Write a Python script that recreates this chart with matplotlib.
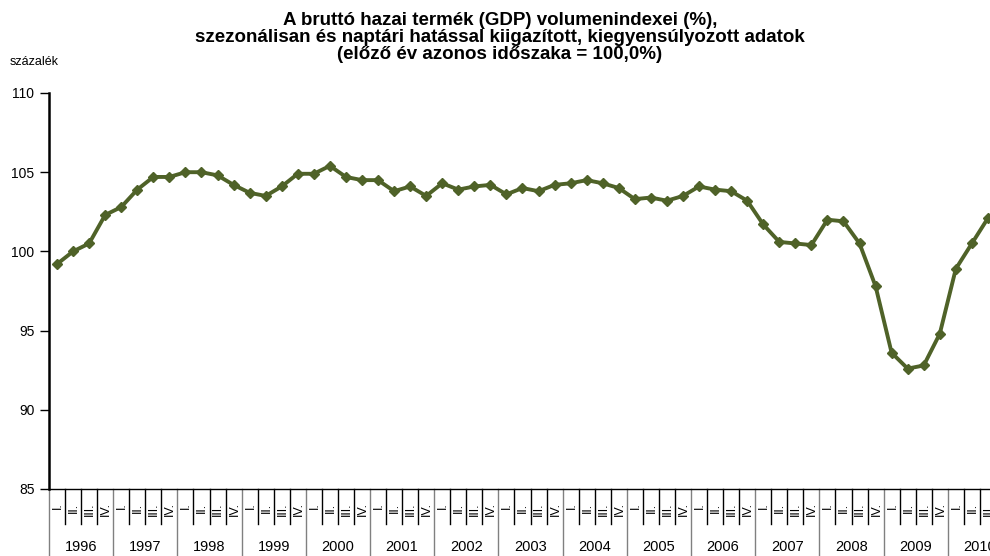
import matplotlib.pyplot as plt
import matplotlib.transforms as mtransforms

years = list(range(1996, 2011))
quarter_labels = ["I.", "II.", "III.", "IV."]
gdp_index = [
    99.2, 100.0, 100.5, 102.3,   # 1996
    102.8, 103.9, 104.7, 104.7,  # 1997
    105.0, 105.0, 104.8, 104.2,  # 1998
    103.7, 103.5, 104.1, 104.9,  # 1999
    104.9, 105.4, 104.7, 104.5,  # 2000
    104.5, 103.8, 104.1, 103.5,  # 2001
    104.3, 103.9, 104.1, 104.2,  # 2002
    103.6, 104.0, 103.8, 104.2,  # 2003
    104.3, 104.5, 104.3, 104.0,  # 2004
    103.3, 103.4, 103.2, 103.5,  # 2005
    104.1, 103.9, 103.8, 103.2,  # 2006
    101.7, 100.6, 100.5, 100.4,  # 2007
    102.0, 101.9, 100.5, 97.8,   # 2008
    93.6, 92.6, 92.8, 94.8,      # 2009
    98.9, 100.5, 102.1,          # 2010
]
y_ticks = [85, 90, 95, 100, 105, 110]

title = ("A bruttó hazai termék (GDP) volumenindexei (%),\n"
         "szezonálisan és naptári hatással kiigazított, kiegyensúlyozott adatok\n"
         "(előző év azonos időszaka = 100,0%)")

plt.rcParams["font.family"] = ["Liberation Sans", "DejaVu Sans"]

fig = plt.figure(figsize=(9.9, 5.56), dpi=100)
ax = fig.add_axes([49 / 990, 67 / 556, 963 / 990, 396 / 556])

n_slots = len(years) * 4
ax.plot(range(len(gdp_index)), gdp_index, color="#4F6228", lw=2.8,
        marker="D", markersize=5, clip_on=False, zorder=3)

ax.set_xlim(-0.5, n_slots - 0.5)
ax.set_ylim(85, 110)
ax.set_yticks(y_ticks)
ax.tick_params(axis="y", direction="out", length=6.5, width=1, labelsize=10, pad=4)
ax.set_xticks([])

for side in ("top", "right"):
    ax.spines[side].set_visible(False)
ax.spines["left"].set_linewidth(1.8)
ax.spines["bottom"].set_linewidth(1.0)

# category axis: quarters and years below the plot
trans = mtransforms.blended_transform_factory(ax.transData, ax.transAxes)
for i in range(n_slots + 1):
    x = i - 0.5
    if i % 4 == 0:
        ax.plot([x, x], [0, -0.17], transform=trans, color="#808080", lw=1, clip_on=False)
    else:
        ax.plot([x, x], [0, -0.088], transform=trans, color="black", lw=1, clip_on=False)
for i in range(n_slots):
    ax.text(i + 0.05, -0.034, quarter_labels[i % 4], transform=trans, rotation=90,
            ha="center", va="top", fontsize=9)
for k, yr in enumerate(years):
    ax.text(4 * k + 1.5, -0.146, str(yr), transform=trans,
            ha="center", va="center", fontsize=10.5)

fig.text(0.505, 0.978, title, ha="center", va="top", fontsize=13.5,
         fontweight="bold", linespacing=0.98)
fig.text(10 / 990, 1 - 62 / 556, "százalék", ha="left", va="center", fontsize=9)

fig.savefig("out.png", dpi=100)
